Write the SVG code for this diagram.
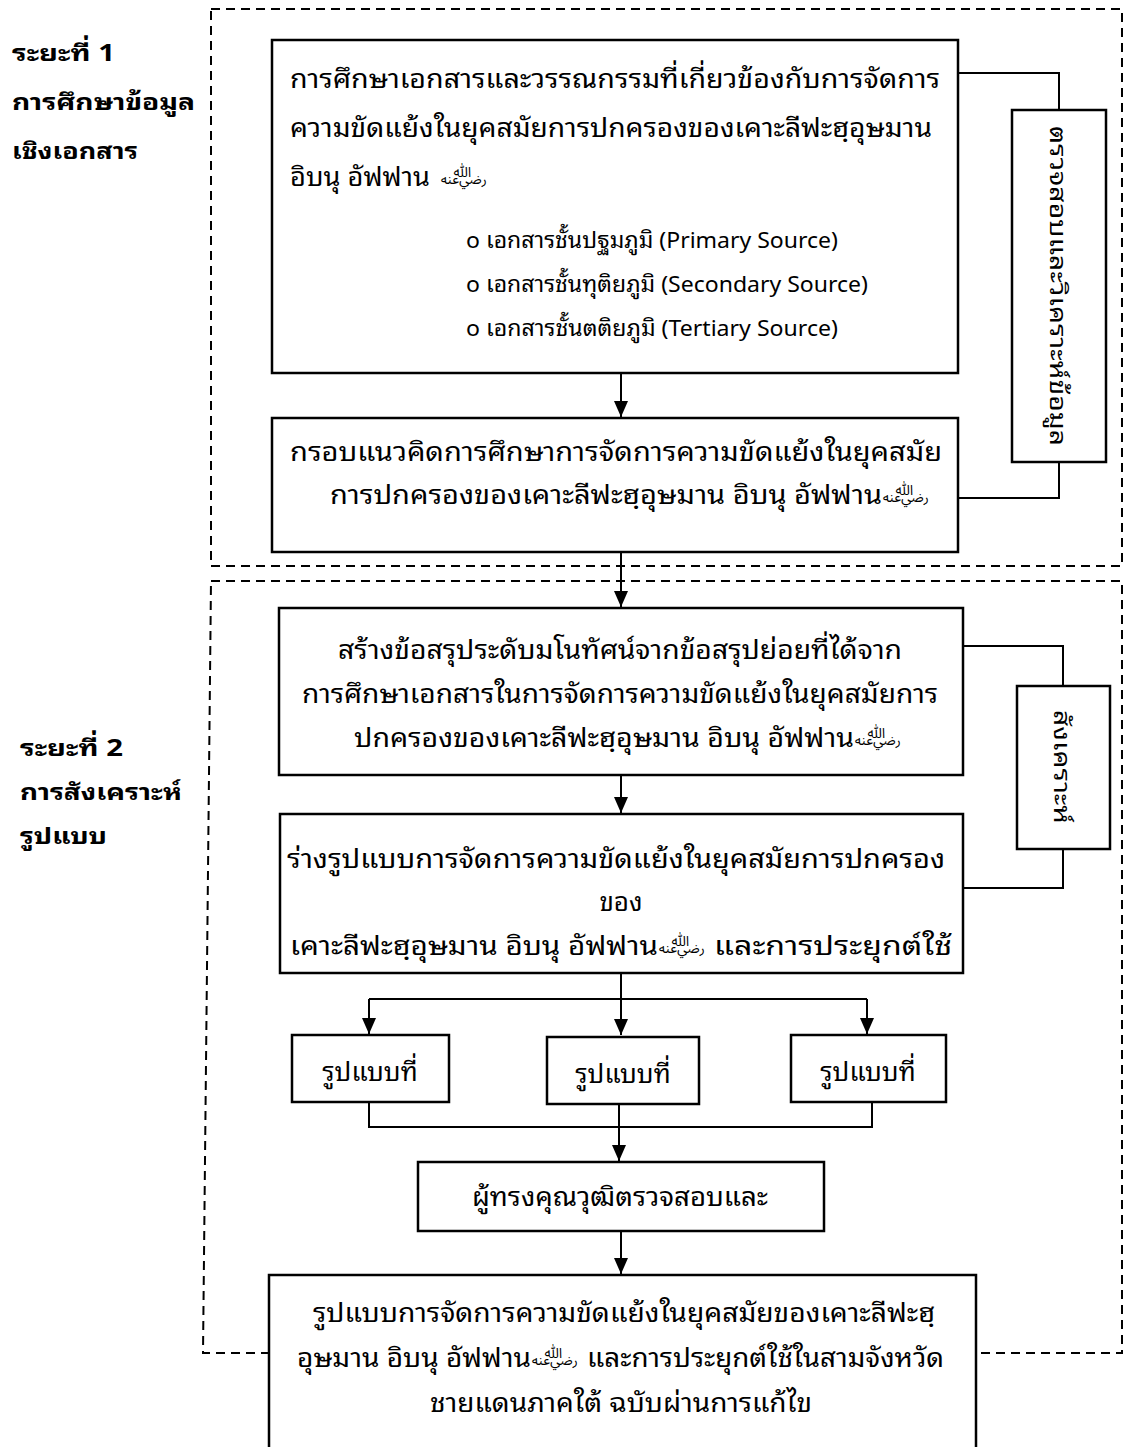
<svg xmlns="http://www.w3.org/2000/svg" width="1125" height="1447" viewBox="0 0 1125 1447">
<defs>
<style>
.bg{fill:#fff}
.box{fill:#fff;stroke:#000;stroke-width:2.5}
.dash{fill:none;stroke:#000;stroke-width:2;stroke-dasharray:9 6}
.conn{fill:none;stroke:#000;stroke-width:2}
.t{font-family:'Noto Sans','Noto Sans Thai Looped','Loma','Garuda','Noto Sans Thai',sans-serif;font-size:26px;fill:#000}
.s{font-size:22px}
.c{text-anchor:middle}
.lbl{font-family:'Noto Sans','Noto Sans Thai Looped','Loma','Garuda','Noto Sans Thai',sans-serif;font-size:23px;font-weight:bold;fill:#000}
.hon{font-family:'DejaVu Sans','Noto Sans Arabic','Noto Naskh Arabic',sans-serif;font-size:25px;fill:#000}
</style>
<marker id="ah" markerUnits="userSpaceOnUse" markerWidth="16" markerHeight="14" refX="16" refY="7" orient="auto">
<path d="M0,0 L16,7 L0,14 Z" fill="#000"/>
</marker>
</defs>
<rect class="bg" x="0" y="0" width="1125" height="1447"/>

<g id="phase-frames">
<path class="dash" d="M211,9 H1122 V566 H211 Z"/>
<path class="dash" d="M211,581 H1122 V1353 H203 L211,581"/>
</g>

<g id="phase1-label">
<text class="lbl" x="12" y="61" textLength="103" lengthAdjust="spacingAndGlyphs">ระยะที่ 1</text>
<text class="lbl" x="12" y="110" textLength="183" lengthAdjust="spacingAndGlyphs">การศึกษาข้อมูล</text>
<text class="lbl" x="12" y="159" textLength="126" lengthAdjust="spacingAndGlyphs">เชิงเอกสาร</text>
</g>
<g id="phase2-label">
<text class="lbl" x="20" y="756" textLength="103" lengthAdjust="spacingAndGlyphs">ระยะที่ 2</text>
<text class="lbl" x="20" y="800" textLength="162" lengthAdjust="spacingAndGlyphs">การสังเคราะห์</text>
<text class="lbl" x="20" y="844" textLength="87" lengthAdjust="spacingAndGlyphs">รูปแบบ</text>
</g>

<g id="connectors">
<path class="conn" d="M958,73 H1059 V110"/>
<path class="conn" d="M1059,462 V498 H958"/>
<path class="conn" d="M621,373 V417" marker-end="url(#ah)"/>
<path class="conn" d="M621,552 V607" marker-end="url(#ah)"/>
<path class="conn" d="M963,646 H1063 V686"/>
<path class="conn" d="M1063,849 V888 H963"/>
<path class="conn" d="M621,775 V813" marker-end="url(#ah)"/>
<path class="conn" d="M621,973 V1035" marker-end="url(#ah)"/>
<path class="conn" d="M369,999 H867"/>
<path class="conn" d="M369,999 V1034" marker-end="url(#ah)"/>
<path class="conn" d="M867,999 V1034" marker-end="url(#ah)"/>
<path class="conn" d="M369,1102 V1127 H872 V1102"/>
<path class="conn" d="M619,1102 V1161" marker-end="url(#ah)"/>
<path class="conn" d="M621,1231 V1274" marker-end="url(#ah)"/>
</g>

<g id="node-docs">
<rect class="box" x="272" y="40" width="686" height="333"/>
<text class="t" x="290" y="88" textLength="650" lengthAdjust="spacingAndGlyphs">การศึกษาเอกสารและวรรณกรรมที่เกี่ยวข้องกับการจัดการ</text>
<text class="t" x="290" y="137" textLength="642" lengthAdjust="spacingAndGlyphs">ความขัดแย้งในยุคสมัยการปกครองของเคาะลีฟะฮฺอุษมาน</text>
<text class="t" x="290" y="186" textLength="140" lengthAdjust="spacingAndGlyphs">อิบนุ อัฟฟาน</text>
<text class="hon" x="440" y="184">﵁</text>
<text class="t s" x="466" y="248" textLength="372" lengthAdjust="spacingAndGlyphs">o เอกสารชั้นปฐมภูมิ (Primary Source)</text>
<text class="t s" x="466" y="292" textLength="402" lengthAdjust="spacingAndGlyphs">o เอกสารชั้นทุติยภูมิ (Secondary Source)</text>
<text class="t s" x="466" y="336" textLength="372" lengthAdjust="spacingAndGlyphs">o เอกสารชั้นตติยภูมิ (Tertiary Source)</text>
</g>

<g id="node-check">
<rect class="box" x="1012" y="110" width="94" height="352"/>
<text class="t s c" transform="translate(1050,286) rotate(90)" x="0" y="0" textLength="320" lengthAdjust="spacingAndGlyphs">ตรวจสอบและวิเคราะห์ข้อมูล</text>
</g>

<g id="node-framework">
<rect class="box" x="272" y="418" width="686" height="134"/>
<text class="t c" x="616" y="461" textLength="652" lengthAdjust="spacingAndGlyphs">กรอบแนวคิดการศึกษาการจัดการความขัดแย้งในยุคสมัย</text>
<text class="t" x="330" y="504" textLength="552" lengthAdjust="spacingAndGlyphs">การปกครองของเคาะลีฟะฮฺอุษมาน อิบนุ อัฟฟาน</text>
<text class="hon" x="882" y="502">﵁</text>
</g>

<g id="node-conclude">
<rect class="box" x="279" y="608" width="684" height="167"/>
<text class="t c" x="620" y="659" textLength="564" lengthAdjust="spacingAndGlyphs">สร้างข้อสรุประดับมโนทัศน์จากข้อสรุปย่อยที่ได้จาก</text>
<text class="t c" x="620" y="703" textLength="636" lengthAdjust="spacingAndGlyphs">การศึกษาเอกสารในการจัดการความขัดแย้งในยุคสมัยการ</text>
<text class="t" x="354" y="747" textLength="500" lengthAdjust="spacingAndGlyphs">ปกครองของเคาะลีฟะฮฺอุษมาน อิบนุ อัฟฟาน</text>
<text class="hon" x="854" y="745">﵁</text>
</g>

<g id="node-synth">
<rect class="box" x="1017" y="686" width="93" height="163"/>
<text class="t s c" transform="translate(1054,767) rotate(90)" x="0" y="0" textLength="114" lengthAdjust="spacingAndGlyphs">สังเคราะห์</text>
</g>

<g id="node-draft">
<rect class="box" x="280" y="814" width="683" height="159"/>
<text class="t c" x="616" y="868" textLength="658" lengthAdjust="spacingAndGlyphs">ร่างรูปแบบการจัดการความขัดแย้งในยุคสมัยการปกครอง</text>
<text class="t c" x="621" y="911">ของ</text>
<text class="t" x="290" y="955" textLength="368" lengthAdjust="spacingAndGlyphs">เคาะลีฟะฮฺอุษมาน อิบนุ อัฟฟาน</text>
<text class="hon" x="658" y="953">﵁</text>
<text class="t" x="714" y="955" textLength="238" lengthAdjust="spacingAndGlyphs">และการประยุกต์ใช้</text>
</g>

<g id="node-model1">
<rect class="box" x="292" y="1035" width="157" height="67"/>
<text class="t c" x="370" y="1081">รูปแบบที่</text>
</g>
<g id="node-model2">
<rect class="box" x="547" y="1037" width="152" height="67"/>
<text class="t c" x="623" y="1083">รูปแบบที่</text>
</g>
<g id="node-model3">
<rect class="box" x="791" y="1035" width="155" height="67"/>
<text class="t c" x="868" y="1081">รูปแบบที่</text>
</g>

<g id="node-expert">
<rect class="box" x="418" y="1162" width="406" height="69"/>
<text class="t c" x="620" y="1206" textLength="296" lengthAdjust="spacingAndGlyphs">ผู้ทรงคุณวุฒิตรวจสอบและ</text>
</g>

<g id="node-final">
<rect class="box" x="269" y="1275" width="707" height="200"/>
<text class="t c" x="624" y="1322" textLength="622" lengthAdjust="spacingAndGlyphs">รูปแบบการจัดการความขัดแย้งในยุคสมัยของเคาะลีฟะฮฺ</text>
<text class="t" x="297" y="1367" textLength="234" lengthAdjust="spacingAndGlyphs">อุษมาน อิบนุ อัฟฟาน</text>
<text class="hon" x="531" y="1365">﵁</text>
<text class="t" x="587" y="1367" textLength="357" lengthAdjust="spacingAndGlyphs">และการประยุกต์ใช้ในสามจังหวัด</text>
<text class="t c" x="621" y="1412" textLength="382" lengthAdjust="spacingAndGlyphs">ชายแดนภาคใต้ ฉบับผ่านการแก้ไข</text>
</g>
</svg>
